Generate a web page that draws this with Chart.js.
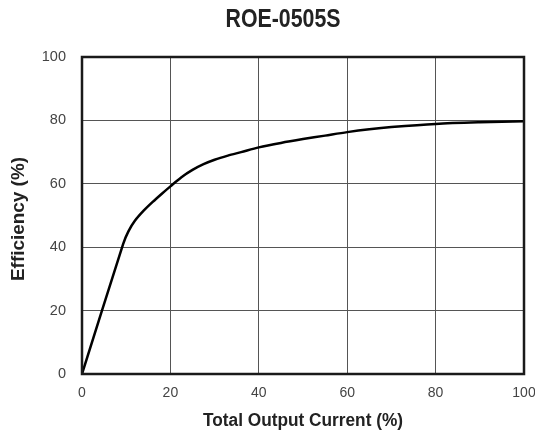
<!DOCTYPE html>
<html>
<head>
<meta charset="utf-8">
<script src="https://cdn.jsdelivr.net/npm/chart.js@4.4.1/dist/chart.umd.min.js"></script>
<style>
	html, body { margin: 0; padding: 0; background: #fff; }
	#wrap { width: 535px; height: 432px; position: relative; }
</style>
</head>
<body>
<div id="wrap"><canvas id="chart" width="535" height="432"></canvas></div>
<script>
const chartTitle = 'ROE-0505S';
const xAxisTitle = 'Total Output Current (%)';
const yAxisTitle = 'Efficiency (%)';

// load (%) vs efficiency (%)
const loadPct = [0, 9.3, 10.5, 12, 14, 16, 18, 20, 22.5, 25, 27.5, 30, 33, 36, 40, 45, 50, 55, 60, 65, 70, 80, 90, 100];
const efficiency = [0, 41, 45, 48.4, 51.6, 54.3, 56.8, 59.2, 62.1, 64.4, 66.2, 67.6, 68.9, 70, 71.5, 72.9, 74.1, 75.2, 76.3, 77.2, 77.9, 78.9, 79.4, 79.7];

const xTicks = [0, 20, 40, 60, 80, 100];
const yTicks = [0, 20, 40, 60, 80, 100];

const FONT = '"Liberation Sans", Arial, sans-serif';

// condensed bold text, squeezed horizontally to the given width
function drawNarrow(ctx, text, x, y, size, width, angle) {
	ctx.save();
	ctx.font = 'bold ' + size + 'px ' + FONT;
	const sx = width / ctx.measureText(text).width;
	ctx.translate(x, y);
	if (angle) ctx.rotate(angle);
	ctx.scale(sx, 1);
	ctx.textAlign = 'center';
	ctx.textBaseline = 'middle';
	ctx.fillText(text, 0, 0);
	ctx.restore();
}

const frameAndTitles = {
	id: 'frameAndTitles',
	afterDraw(chart) {
		const { ctx, chartArea: a } = chart;
		ctx.save();
		ctx.strokeStyle = '#1a1a1a';
		ctx.lineWidth = 2.5;
		ctx.strokeRect(a.left, a.top, a.right - a.left, a.bottom - a.top);
		ctx.fillStyle = '#222';
		const cx = (a.left + a.right) / 2;
		drawNarrow(ctx, chartTitle, 283, 20, 25, 115, 0);
		drawNarrow(ctx, xAxisTitle, cx, 421, 18, 200, 0);
		drawNarrow(ctx, yAxisTitle, 19, 219, 18, 124, -Math.PI / 2);
		ctx.restore();
	},
};

new Chart(document.getElementById('chart'), {
	type: 'line',
	data: {
		datasets: [{
			data: loadPct.map((x, i) => ({ x: x, y: efficiency[i] })),
			borderColor: '#000',
			borderWidth: 2.5,
			pointRadius: 0,
			tension: 0.3,
			fill: false,
		}],
	},
	options: {
		responsive: false,
		animation: false,
		layout: { padding: { top: 57, right: 11, left: 0, bottom: 0 } },
		plugins: { legend: { display: false }, tooltip: { enabled: false } },
		scales: {
			x: {
				type: 'linear',
				min: 0,
				max: 100,
				afterBuildTicks: (s) => { s.ticks = xTicks.map((v) => ({ value: v })); },
				afterFit: (s) => { s.height = 58; s.paddingLeft = 0; s.paddingRight = 0; },
				grid: { color: '#555', lineWidth: 1, drawTicks: false },
				border: { display: false },
				ticks: { color: '#444', padding: 11, font: { family: FONT, size: 14 } },
			},
			y: {
				min: 0,
				max: 100,
				afterBuildTicks: (s) => { s.ticks = yTicks.map((v) => ({ value: v })); },
				afterFit: (s) => { s.width = 82; s.paddingTop = 0; s.paddingBottom = 0; },
				grid: { color: '#555', lineWidth: 1, drawTicks: false },
				border: { display: false },
				ticks: { color: '#444', padding: 16, font: { family: FONT, size: 14.5 } },
			},
		},
	},
	plugins: [frameAndTitles],
});
</script>
</body>
</html>
